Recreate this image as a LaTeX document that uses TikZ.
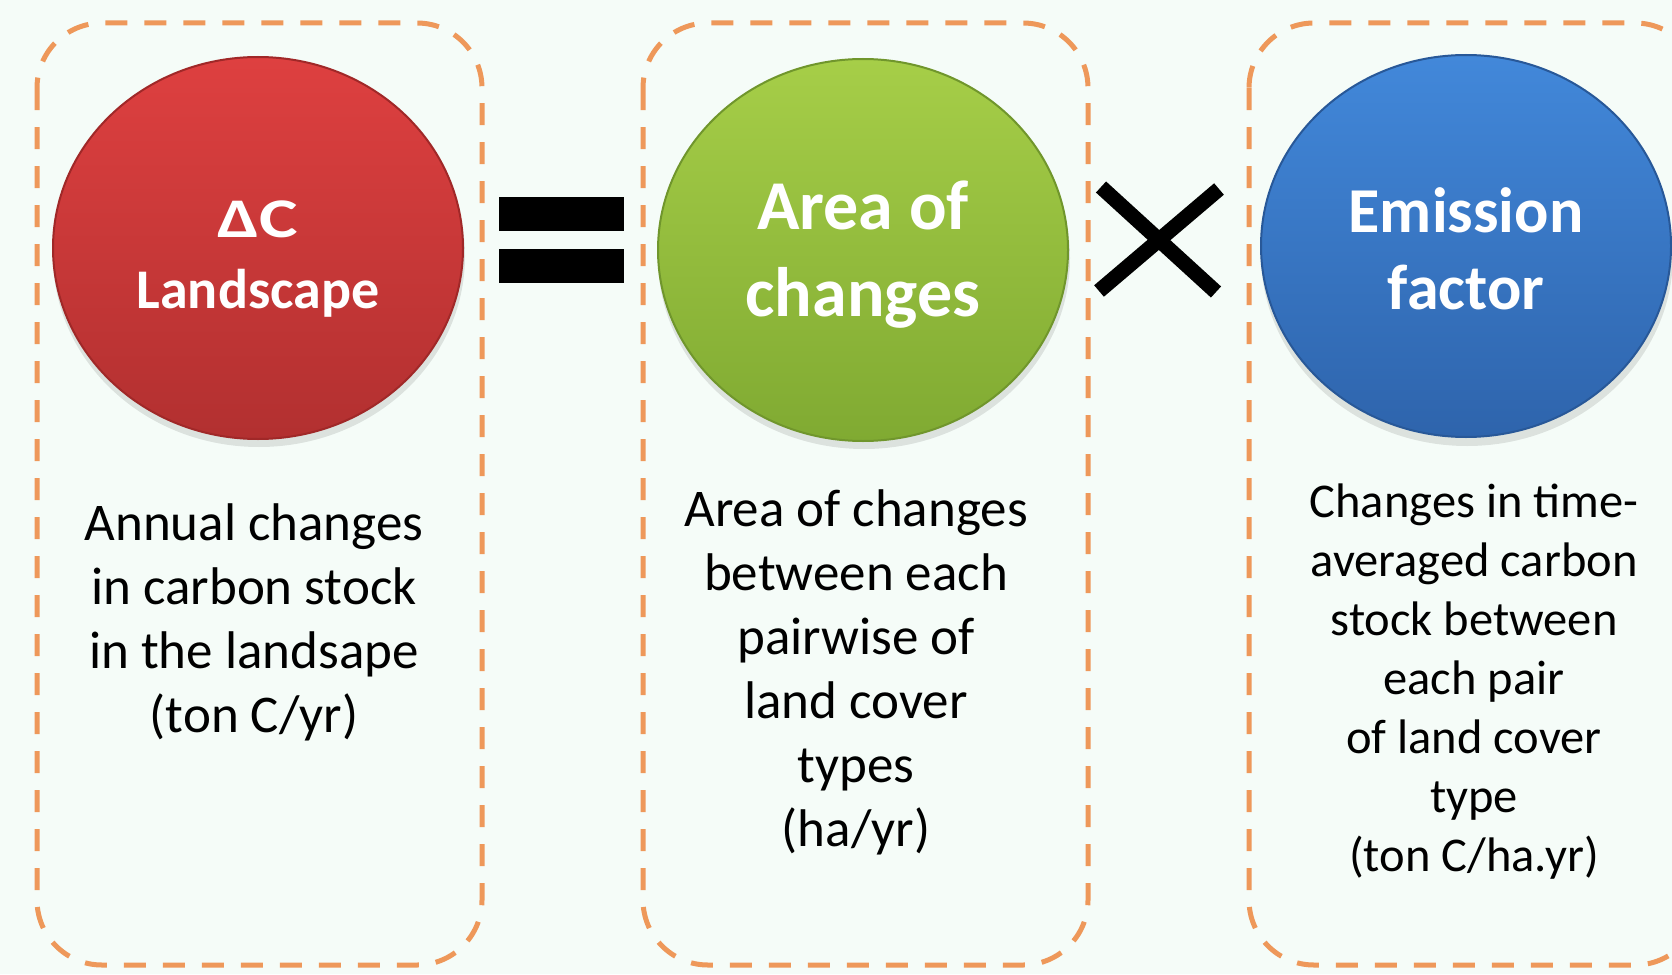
\documentclass[tikz,border=0pt]{standalone}
\usepackage{fontspec}
\usepackage{graphicx}
\setmainfont{Carlito}
\usetikzlibrary{shapes.geometric}

\definecolor{bgmint}{RGB}{245,252,248}
\definecolor{dashorange}{RGB}{238,152,90}
\definecolor{redtop}{RGB}{222,64,64}
\definecolor{redbot}{RGB}{178,48,48}
\definecolor{redrim}{RGB}{160,40,40}
\definecolor{greentop}{RGB}{166,206,72}
\definecolor{greenbot}{RGB}{128,170,50}
\definecolor{greenrim}{RGB}{112,150,44}
\definecolor{bluetop}{RGB}{66,136,218}
\definecolor{bluebot}{RGB}{46,100,172}
\definecolor{bluerim}{RGB}{40,88,152}

\tikzset{
  panel/.style={draw=dashorange, line width=5pt, dash pattern=on 22pt off 17pt,
    rounded corners=65pt},
  disc/.style={ellipse, minimum width=410pt, minimum height=382pt, inner sep=0pt,
    line width=2pt},
  disclabel/.style 2 args={text=white, font=\bfseries\fontsize{#1}{#2}\selectfont,
    align=center, inner sep=0pt},
  desc/.style 2 args={align=center, inner sep=0pt, font=\fontsize{#1}{#2}\selectfont},
  discshadow/.style={fill=black, opacity=0.10},
  opsign/.style={fill=black},
}

\begin{document}
\begin{tikzpicture}[x=1pt,y=-1pt]
  % page and background
  \useasboundingbox (0,0) rectangle (1672,974);
  \clip (0,0) rectangle (1672,974);
  \fill[bgmint] (0,0) rectangle (1672,974);

  % dashed panels
  \draw[panel] (37,23) rectangle (482,965);
  \draw[panel] (643,23) rectangle (1088,965);
  \draw[panel] (1249,23) rectangle (1700,965);

  % soft shadows under the discs
  \fill[discshadow] (259,256) ellipse (206 and 191);
  \fill[discshadow] (864,258) ellipse (206 and 191);
  \fill[discshadow] (1467,255) ellipse (206 and 191);

  % discs
  \node[disc, draw=redrim, top color=redtop, bottom color=redbot] (dc) at (258,248) {};
  \node[disc, draw=greenrim, top color=greentop, bottom color=greenbot] (area) at (863,250) {};
  \node[disc, draw=bluerim, top color=bluetop, bottom color=bluebot] (ef) at (1466,246) {};

  % disc captions
  \node[disclabel={56}{71}] (dctext) at (258,259) {\scalebox{1.3}[1]{ΔC}\\Landscape};
  \node[disclabel={70}{87}] (areatext) at (863,255) {Area of\\changes};
  \node[disclabel={64}{77}] (eftext) at (1466,249) {Emission\\factor};

  % equals sign
  \fill[opsign] (499,197) rectangle (624,231);
  \fill[opsign] (499,249) rectangle (624,283);

  % times sign
  \draw[line width=15pt] (1101,187) -- (1216,292);
  \draw[line width=15pt] (1219,189) -- (1099,291);

  % descriptions
  \node[desc={53}{64}] (dcdesc) at (254,622)
    {Annual changes\\in carbon stock\\in the landsape\\(ton C/yr)};
  \node[desc={53}{64}] (areadesc) at (856,672)
    {Area of changes\\between each\\pairwise of\\land cover\\types\\(ha/yr)};
  \node[desc={48.5}{59}] (efdesc) at (1474,682)
    {Changes in time-\\averaged carbon\\stock between\\each pair\\of land cover\\type\\(ton C/ha.yr)};
\end{tikzpicture}
\end{document}
